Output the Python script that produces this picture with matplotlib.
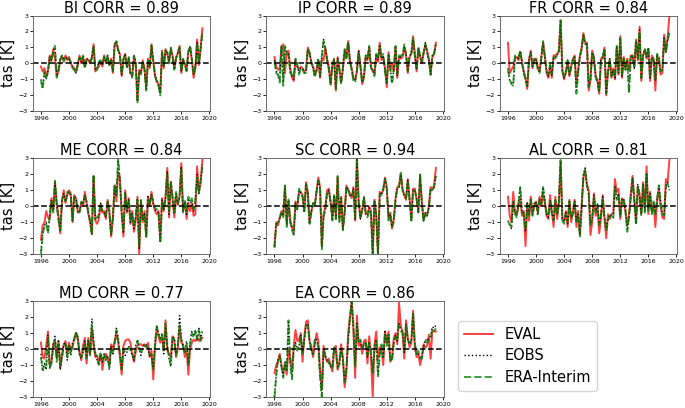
"""Seasonal tas anomalies per region: EVAL vs EOBS vs ERA-Interim."""

import matplotlib
matplotlib.use("Agg")
import matplotlib.pyplot as plt
import numpy as np

# quarterly time axis, 1996.0 .. 2019.0
START_YEAR = 1996
N_STEPS = 93

REGIONS = ["BI", "IP", "FR", "ME", "SC", "AL", "MD", "EA"]
CORRS = [0.89, 0.89, 0.84, 0.84, 0.94, 0.81, 0.77, 0.86]

BI_EVAL = [-0.2, -0.5, -0.3, -0.8, -0.4, 0.5, 0.2, 0.9, 0.3, -0.8, -0.5, 0.2,
           0.4, 0.2, 0.5, 0.2, 0.4, 0.0, -0.2, -0.3, -0.5, 0.0, 0.5, 0.0,
           0.4, -0.2, 0.3, 0.2, 0.0, 0.4, 1.2, -0.5, -0.3, -0.2, 0.1, -0.2,
           0.5, 0.0, 0.4, -0.1, 0.3, -0.6, 1.2, 1.3, 0.8, 0.6, -0.8, 0.2,
           0.6, -0.2, 0.3, -0.6, -0.8, 0.4, 0.0, -2.3, -0.4, -0.6, 0.2, -0.3,
           -1.6, 0.3, -0.3, 1.2, 0.2, -0.8, -1.1, -1.3, -1.8, 0.8, -0.3, 0.9,
           0.6, 0.1, 0.9, 0.5, -0.3, 0.4, 0.6, 1.1, -0.6, 0.2, 0.0, -0.4,
           0.8, 1.0, 0.2, -0.9, -0.3, 1.5, -0.1, 1.0, 2.2]
BI_EOBS = [-1.0, -1.5, -0.6, -1.0, -0.5, 0.4, 0.2, 0.8, 1.0, -0.8, -0.4, 0.3,
           0.5, 0.2, 0.4, 0.3, 0.3, 0.1, -0.2, -0.4, -0.6, -0.1, 0.4, 0.1,
           0.5, -0.2, 0.2, 0.3, 0.1, 0.3, 1.1, -0.4, -0.3, 0.1, 0.2, -0.1,
           0.4, 0.1, 0.5, -0.1, 0.2, -0.5, 1.2, 1.4, 0.9, 0.5, -0.7, 0.3,
           0.6, -0.3, 0.4, -0.7, -0.8, 0.5, 0.1, -2.4, -0.5, -0.6, 0.1, -0.4,
           -1.6, 0.2, -0.2, 1.1, 0.1, -0.7, -1.1, -1.4, -1.9, 0.7, -0.2, 0.8,
           0.7, 0.1, 1.0, 0.4, -0.4, 0.3, 0.7, 1.0, -0.5, 0.3, -0.1, -0.5,
           0.7, 1.1, 0.3, -0.7, -0.2, 1.3, 0.0, 0.9, 1.9]
BI_ERA = [-1.1, -1.6, -0.5, -0.9, -0.6, 0.4, 0.1, 0.8, 1.1, -0.9, -0.4, 0.3,
          0.5, 0.1, 0.4, 0.3, 0.3, 0.1, -0.3, -0.4, -0.6, -0.1, 0.4, 0.1,
          0.5, -0.3, 0.2, 0.3, 0.1, 0.3, 1.1, -0.4, -0.4, 0.1, 0.2, -0.1,
          0.4, 0.1, 0.5, -0.2, 0.2, -0.5, 1.1, 1.4, 0.9, 0.5, -0.7, 0.3,
          0.5, -0.3, 0.4, -0.7, -0.9, 0.5, 0.1, -2.5, -0.5, -0.7, 0.1, -0.4,
          -1.7, 0.2, -0.2, 1.1, 0.1, -0.7, -1.2, -1.4, -2.0, 0.7, -0.2, 0.8,
          0.7, 0.0, 1.0, 0.4, -0.4, 0.3, 0.7, 1.0, -0.5, 0.3, -0.1, -0.5,
          0.7, 1.1, 0.3, -0.7, -0.2, 1.3, 0.0, 0.9, 1.9]

IP_EVAL = [0.4, -0.2, -0.4, -0.3, 1.0, 1.2, -0.6, 0.7, 0.8, -0.3, -0.9, -1.1,
           0.2, -0.2, -0.4, -0.2, -0.3, -0.5, -0.4, 1.0, 0.6, 0.1, -0.2, -0.6,
           -0.5, 0.2, -0.9, 0.3, 0.2, 1.0, 0.3, -0.2, -1.3, 0.0, 0.2, -1.7,
           0.4, -0.3, -1.2, -0.4, 0.8, 0.4, 1.4, 0.2, -0.3, -0.9, -1.0, -0.5,
           0.8, -0.1, -1.3, -0.9, 0.4, 0.2, 1.0, -0.2, -0.5, -0.6, 0.5, 0.1,
           1.3, 0.2, 0.4, -0.3, -1.5, 0.7, -0.4, 0.0, -0.5, 1.0, -0.9, 0.4,
           0.3, 0.4, 1.0, 0.5, -0.6, 0.4, 0.6, 1.7, 0.6, -0.5, 0.9, 0.4,
           0.0, 0.6, 1.2, 0.8, 0.3, -0.7, 0.4, 0.6, 1.3]
IP_EOBS = [0.2, -0.5, -0.6, -1.1, 1.1, -1.2, 1.0, 0.7, 0.6, -0.5, -0.8, -1.0,
           0.3, -0.1, -0.6, -0.3, -0.3, -0.6, -0.5, 0.9, 0.7, 0.1, -0.3, -0.8,
           -0.4, 0.3, -0.8, 0.4, 1.5, 0.9, 0.2, -0.3, -1.3, -0.1, 0.3, -1.6,
           0.3, -0.4, -1.2, -0.3, 0.9, 0.3, 1.3, 0.1, -0.4, -1.0, -1.1, -0.4,
           0.8, -0.2, -1.2, -0.8, 0.5, 0.3, 1.0, -0.3, -0.4, -0.7, 0.6, 0.2,
           1.2, 0.3, 0.5, -0.4, -1.3, 0.6, -0.3, -1.2, -0.4, 1.1, -0.8, 0.5,
           0.4, 0.5, 1.1, 0.6, -0.5, 0.5, 0.6, 1.5, 0.5, -0.4, 1.0, 0.5,
           0.1, 0.7, 1.3, 0.7, 0.2, -0.7, 0.5, 0.6, 1.2]
IP_ERA = [0.1, -0.6, -0.7, -1.2, 1.1, -1.4, 1.1, 0.6, 0.5, -0.6, -0.7, -0.9,
          0.3, -0.1, -0.7, -0.3, -0.4, -0.6, -0.6, 0.9, 0.7, 0.0, -0.3, -0.9,
          -0.4, 0.3, -0.7, 0.5, 1.4, 0.9, 0.2, -0.4, -1.4, -0.2, 0.3, -1.6,
          0.2, -0.4, -1.3, -0.2, 0.9, 0.3, 1.4, 0.1, -0.4, -1.1, -1.2, -0.4,
          0.7, -0.2, -1.2, -0.8, 0.5, 0.3, 1.1, -0.3, -0.4, -0.8, 0.6, 0.3,
          1.1, 0.4, 0.6, -0.5, -1.2, 0.5, -0.3, -1.3, -0.3, 1.1, -0.7, 0.5,
          0.5, 0.5, 1.2, 0.6, -0.5, 0.5, 0.6, 1.6, 0.5, -0.4, 1.0, 0.5,
          0.1, 0.7, 1.2, 0.7, 0.2, -0.7, 0.5, 0.6, 1.2]

FR_EVAL = [1.3, -0.6, -0.4, -0.2, 0.3, 0.4, 0.2, 0.7, 0.1, -0.5, -0.9, -1.6,
           0.2, 0.8, -0.3, 0.2, 0.3, -0.2, -0.5, 0.4, 1.3, 0.5, -0.6, -0.9,
           -0.2, -0.9, 0.5, 0.5, 0.6, 0.8, 2.7, -0.4, -1.0, -0.5, 0.1, -0.8,
           -0.2, 0.3, 0.5, -1.2, -0.4, 0.5, 1.0, 1.9, 1.3, 1.3, -1.7, -1.0,
           0.8, 0.4, -0.8, -1.0, -1.9, 0.3, 0.3, 1.0, -2.0, -0.5, 0.2, -0.9,
           -0.3, -1.0, 1.0, -0.7, 1.7, -0.9, 0.4, -0.3, 0.3, -0.4, 0.5, 0.5,
           -0.2, 1.5, 0.2, 2.3, -1.1, 0.5, 0.8, 0.3, 0.9, -1.1, 0.5, 0.2,
           -1.7, 0.5, 0.2, -0.7, -0.6, 1.8, 0.8, 1.6, 3.0]
FR_EOBS = [-0.3, -1.1, -1.2, -1.3, 0.4, 0.3, 0.3, 0.8, 0.1, -0.6, -1.0, -1.5,
           0.3, 0.7, -0.2, 0.3, 0.2, -0.3, -0.6, 0.3, 1.3, 0.4, -0.5, -0.8,
           -0.1, -0.8, 0.4, 0.4, 0.5, 0.7, 2.6, -0.5, -0.9, -0.6, 0.2, -0.7,
           -0.2, 0.2, 0.4, -1.8, -0.5, 0.4, 0.9, 1.8, 1.2, 1.3, -1.5, -1.0,
           0.7, 0.3, -0.9, -1.1, -1.8, 0.2, 0.4, 0.9, -1.9, -0.6, 0.3, -0.8,
           -0.4, -0.9, 1.1, -0.6, 1.6, -0.8, 0.3, -0.4, 0.2, -1.8, 0.4, 0.5,
           -0.3, 1.4, 0.3, 2.1, -1.0, 0.6, 0.9, 0.4, 1.0, -0.9, 0.4, 0.3,
           -1.1, 0.6, 0.4, -0.5, -0.4, 1.6, 0.7, 1.5, 2.0]
FR_ERA = [-0.4, -1.0, -1.3, -1.4, 0.5, 0.3, 0.4, 0.8, 0.0, -0.6, -1.0, -1.4,
          0.3, 0.6, -0.2, 0.3, 0.2, -0.4, -0.6, 0.3, 1.4, 0.4, -0.4, -0.7,
          -0.1, -0.7, 0.4, 0.3, 0.5, 0.6, 2.7, -0.5, -0.9, -0.6, 0.2, -0.7,
          -0.3, 0.2, 0.4, -1.9, -0.6, 0.4, 0.9, 1.8, 1.2, 1.2, -1.5, -1.1,
          0.7, 0.3, -0.9, -1.2, -1.8, 0.2, 0.4, 0.9, -1.9, -0.6, 0.3, -0.8,
          -0.4, -0.9, 1.1, -0.6, 1.6, -0.8, 0.3, -0.4, 0.2, -1.9, 0.4, 0.5,
          -0.3, 1.4, 0.3, 2.0, -0.9, 0.6, 0.9, 0.4, 1.0, -0.9, 0.4, 0.3,
          -1.0, 0.6, 0.4, -0.5, -0.4, 1.5, 0.7, 1.4, 1.9]

ME_EVAL = [-2.1, -1.2, -1.0, -0.3, -0.7, -0.8, 0.5, -0.2, 1.5, 0.2, -0.6, -1.7,
           0.3, 1.0, 0.2, 0.7, 1.0, 0.8, -1.0, 0.7, 0.5, -0.4, -0.3, 0.2,
           0.0, 0.9, 0.2, -0.5, -1.0, -1.7, 1.9, -0.9, -1.1, -0.8, 0.1, -0.4,
           -0.3, -0.8, 0.4, -0.3, -1.9, -0.8, 1.3, 0.3, 2.1, 1.8, -0.5, -1.9,
           1.0, -0.4, 0.5, -1.1, -0.3, -1.6, -0.9, 0.6, -3.0, 0.3, -1.0, -0.3,
           -1.9, 0.6, 0.0, 0.9, 0.1, -0.3, -0.5, -0.3, -2.2, 0.5, -0.3, 0.6,
           2.4, -0.7, 1.5, 0.5, -0.7, 0.7, 0.1, 0.6, 2.7, -0.3, 0.3, -0.8,
           0.2, -0.3, 0.2, -0.6, -0.5, 2.5, 0.9, 1.5, 2.9]
ME_EOBS = [-2.8, -1.7, -1.2, -1.0, -1.6, -0.6, 0.4, -0.3, 1.5, 0.1, -0.8, -1.6,
           0.4, 0.8, 0.3, 0.8, 0.9, 0.7, -0.9, 0.6, 0.5, -0.3, -0.4, 0.3,
           0.1, 0.7, 0.3, -0.4, -0.9, -1.8, 1.9, -0.8, -0.8, -0.6, 0.2, -0.3,
           -0.4, -0.7, 0.3, -0.4, -1.8, -0.7, 1.3, 0.6, 2.9, 1.6, -0.4, -1.7,
           0.9, -0.3, 0.4, -1.0, -0.4, -1.4, -0.7, 0.5, -2.7, 0.4, -0.9, -0.4,
           -1.9, 0.6, 0.1, 0.8, 0.2, -0.2, -0.3, -0.4, -2.2, 0.4, -0.2, 0.5,
           2.2, -0.5, 1.5, 0.5, -0.5, 0.8, 0.1, 0.6, 2.5, -0.3, 0.3, -0.5,
           0.5, 0.2, 0.4, -0.3, 0.3, 2.0, 0.8, 1.5, 2.6]
ME_ERA = [-3.0, -1.8, -1.2, -1.1, -1.7, -0.6, 0.3, -0.4, 1.6, 0.0, -0.9, -1.5,
          0.4, 0.7, 0.3, 0.9, 0.9, 0.6, -0.9, 0.6, 0.4, -0.3, -0.4, 0.3,
          0.2, 0.6, 0.3, -0.3, -0.9, -1.8, 2.0, -0.8, -0.7, -0.5, 0.2, -0.3,
          -0.5, -0.6, 0.3, -0.4, -1.8, -0.6, 1.4, 0.7, 3.0, 1.5, -0.3, -1.6,
          0.8, -0.2, 0.4, -0.9, -0.5, -1.3, -0.6, 0.4, -2.5, 0.4, -0.8, -0.5,
          -1.9, 0.5, 0.2, 0.7, 0.3, -0.1, -0.2, -0.4, -2.3, 0.3, -0.2, 0.5,
          2.0, -0.4, 1.6, 0.6, -0.4, 0.9, 0.2, 0.7, 2.3, -0.4, 0.4, -0.3,
          0.6, 0.3, 0.5, -0.2, 0.4, 1.8, 0.8, 1.6, 2.5]

SC_EVAL = [-2.5, -1.0, -1.2, -0.7, -0.3, -0.6, 1.2, -1.1, 0.3, -0.9, -1.3, -1.6,
           0.3, -0.1, 0.9, 0.9, 0.7, -0.3, 1.5, 0.9, -1.0, -0.3, 0.1, 0.1,
           1.0, 1.8, 1.2, -2.5, -0.5, 0.0, 1.0, 1.1, 0.2, -0.8, 0.6, -0.7,
           1.8, -0.8, 0.6, -1.4, -0.3, 1.3, 1.0, 0.8, 0.5, 1.2, -0.9, 3.0,
           0.3, -0.7, -0.3, 0.5, -0.4, -0.5, 0.0, -0.3, -3.0, 0.4, -0.5, -3.0,
           0.9, 0.8, 1.0, 1.8, 1.2, -0.7, -0.4, -1.4, -0.8, 0.5, 1.2, 1.3,
           2.0, 1.0, 0.7, 0.4, 1.7, 0.5, -0.8, 1.1, 1.1, 0.4, -0.3, 1.9,
           0.3, -0.8, -0.5, -0.5, 0.0, 1.2, 1.1, 1.3, 2.4]
SC_EOBS = [-2.5, -1.1, -1.1, -0.8, -0.4, -0.6, 1.3, -1.2, 0.4, -1.0, -1.4, -1.7,
           0.2, -0.2, 1.0, 0.8, 0.6, -0.4, 1.4, 0.8, -1.1, -0.4, 0.2, 0.0,
           0.9, 1.6, 1.1, -2.6, -0.6, -0.2, 0.8, 1.0, 0.3, -0.9, 0.7, -0.8,
           1.8, -0.9, 0.5, -1.5, -0.4, 1.2, 1.1, 0.7, 0.6, 1.1, -0.8, 3.0,
           0.2, -0.8, -0.2, 0.6, -0.5, -0.6, -0.1, -0.4, -3.0, 0.3, -0.6, -3.0,
           0.8, 0.7, 1.1, 1.7, 1.1, -0.8, -0.5, -1.3, -0.9, 0.4, 1.1, 1.2,
           2.0, 1.1, 0.6, 0.5, 1.6, 0.4, -0.9, 1.0, 1.0, 0.5, -0.4, 2.0,
           0.2, -0.9, -0.4, -0.6, -0.1, 1.1, 1.0, 1.2, 2.0]
SC_ERA = [-2.6, -1.2, -1.0, -0.8, -0.4, -0.7, 1.3, -1.3, 0.5, -1.0, -1.5, -1.8,
          0.2, -0.2, 1.1, 0.8, 0.6, -0.4, 1.4, 0.8, -1.1, -0.4, 0.2, 0.0,
          0.9, 1.6, 1.1, -2.7, -0.6, -0.3, 0.8, 0.9, 0.3, -0.9, 0.7, -0.8,
          1.9, -1.0, 0.5, -1.5, -0.5, 1.2, 1.1, 0.6, 0.6, 1.0, -0.7, 3.0,
          0.2, -0.8, -0.2, 0.6, -0.5, -0.7, -0.2, -0.5, -3.0, 0.3, -0.7, -3.0,
          0.8, 0.7, 1.1, 1.7, 1.1, -0.9, -0.5, -1.3, -1.0, 0.4, 1.1, 1.2,
          2.1, 1.1, 0.6, 0.5, 1.6, 0.4, -1.0, 1.0, 1.0, 0.5, -0.4, 2.0,
          0.2, -1.0, -0.4, -0.6, -0.1, 1.1, 1.0, 1.2, 1.9]

AL_EVAL = [0.6, -0.6, -1.0, 0.9, -0.3, -0.5, 0.0, 0.5, -0.6, -0.3, -2.5, 0.2,
           -0.9, 0.6, -0.5, 0.0, 0.3, -0.4, 0.6, 0.0, 0.8, 0.2, -0.6, -0.8,
           0.7, -0.3, -1.3, 0.6, -0.8, 0.1, 2.8, -0.8, -0.9, -0.3, -1.3, 0.4,
           -1.0, -0.3, 0.4, -1.3, -0.3, -1.8, 0.1, 1.8, 2.2, 1.4, 1.0, -1.8,
           -1.0, 0.8, -0.6, 0.0, -1.7, -0.8, 0.7, -0.8, -2.0, -0.5, -0.8, -0.5,
           -0.4, 1.7, 0.9, 1.1, -0.8, 0.5, 0.3, -0.3, -1.2, -0.5, 0.8, 1.9,
           0.5, -1.0, 1.2, 0.8, -0.5, 1.5, -0.2, 2.5, -0.5, 0.9, -0.3, 0.1,
           -1.3, 0.3, 1.1, 0.0, -0.7, -0.8, 1.7, 1.5, 2.9]
AL_EOBS = [-0.9, -1.2, -1.4, 0.2, -0.4, -0.6, 0.3, 1.2, -0.4, -0.4, -1.6, 0.2,
           -0.5, 0.5, -0.5, 0.2, 0.3, -0.5, 0.4, 0.2, 1.2, 0.4, -0.5, -0.7,
           0.4, -0.4, -0.8, 0.3, -0.5, 0.4, 2.8, -0.8, -1.0, -0.4, -1.1, 0.3,
           -0.7, -0.4, 0.3, -0.9, -0.5, -1.8, 0.0, 2.0, 2.4, 1.2, 0.8, -1.1,
           -0.7, 0.7, -0.3, 0.2, -1.1, -0.5, 0.6, -0.6, -1.4, -0.8, -0.5, -0.6,
           -0.7, 1.3, 0.5, 0.8, -0.6, 0.5, 0.4, -0.3, -1.5, -0.6, 0.6, 1.8,
           0.4, -1.1, 1.4, 0.6, -0.5, 1.4, -0.3, 2.1, -0.2, 0.8, -0.4, 0.2,
           -0.4, 0.4, 1.3, 0.3, -0.4, -0.5, 1.3, 1.5, 1.0]
AL_ERA = [-1.0, -1.1, -1.3, 0.3, -0.5, -0.7, 0.2, 1.2, -0.4, -0.5, -1.5, 0.1,
          -0.6, 0.4, -0.6, 0.2, 0.2, -0.5, 0.5, 0.1, 1.2, 0.3, -0.4, -0.6,
          0.3, -0.5, -0.9, 0.4, -0.6, 0.3, 2.9, -0.9, -1.1, -0.5, -1.0, 0.3,
          -0.8, -0.5, 0.2, -1.0, -0.6, -1.9, -0.1, 1.9, 2.3, 1.3, 0.8, -1.2,
          -0.8, 0.6, -0.4, 0.1, -1.2, -0.6, 0.5, -0.7, -1.5, -0.9, -0.6, -0.7,
          -0.8, 1.2, 0.4, 0.7, -0.7, 0.4, 0.5, -0.4, -1.6, -0.7, 0.5, 1.7,
          0.3, -1.2, 1.3, 0.5, -0.6, 1.3, -0.4, 2.0, -0.3, 0.7, -0.5, 0.3,
          -0.5, 0.5, 1.3, 0.2, -0.5, -0.6, 1.2, 1.4, 1.1]

MD_EVAL = [0.4, -0.5, -0.6, 0.2, 1.1, -1.0, -0.8, 0.3, 0.5, -0.5, 0.5, -1.2,
           -0.3, 0.3, 0.5, -0.3, 0.4, 0.0, 0.1, 0.7, 1.0, 0.6, -0.2, -0.7,
           0.2, 0.7, -0.9, 0.7, -0.3, 1.3, 0.2, -0.5, -0.4, -0.8, -0.3, -1.3,
           -0.5, -0.3, -0.6, -1.0, 0.3, 0.0, 0.5, 1.0, 0.4, -0.5, -1.6, 0.2,
           0.5, 0.6, 0.6, 0.4, -0.3, -0.8, -0.2, 0.2, 0.3, 0.3, 0.2, 0.3,
           0.1, 0.4, -0.5, -0.1, -1.9, 0.1, 1.3, 0.8, 0.4, 0.7, 0.0, 1.8,
           -0.1, -0.3, -0.5, 0.8, 0.5, -0.5, 0.0, 1.4, 0.4, 0.3, -0.5, 0.0,
           -1.6, 0.0, 0.4, 0.6, 0.5, 0.7, 0.5, 0.7, 0.7]
MD_EOBS = [-0.3, -1.4, -0.9, -1.3, 0.9, -1.2, -0.8, 0.3, 0.8, -0.6, 0.6, -1.3,
           -0.5, 0.3, 0.4, -0.7, 0.2, -0.4, 0.4, 0.6, 1.0, 0.8, -0.4, -0.6,
           -0.2, 0.5, -0.5, 0.6, -0.3, 1.9, 0.5, -0.2, -0.7, -1.0, -0.3, -0.8,
           -0.3, -0.7, -0.4, -1.3, 0.2, -0.3, 0.4, 1.3, 0.7, -0.2, -1.2, 0.0,
           -0.4, -0.2, 0.2, -0.1, -0.4, -0.7, 0.2, 0.6, 0.0, -0.4, 0.1, 0.3,
           0.3, 0.0, -0.5, -0.4, -1.2, 0.4, 1.5, 1.0, 0.7, 1.0, -0.3, 1.4,
           0.3, -0.6, -1.1, 0.8, 0.7, -0.3, 0.2, 2.1, 0.7, 0.1, -0.2, 0.5,
           -0.9, 0.4, 1.1, 0.8, 1.2, 0.5, 1.3, 0.6, 1.2]
MD_ERA = [-0.5, -1.3, -1.0, -1.1, 0.8, -1.2, -0.9, 0.1, 0.6, -0.8, 0.4, -1.0,
          -0.6, 0.2, 0.3, -0.5, 0.3, -0.3, 0.2, 0.5, 1.1, 0.7, -0.3, -0.5,
          0.0, 0.4, -0.6, 0.5, -0.4, 1.5, 0.4, -0.3, -0.6, -1.0, -0.2, -0.7,
          -0.4, -0.6, -0.5, -1.2, 0.1, -0.2, 0.3, 1.2, 0.6, -0.3, -1.3, 0.0,
          -0.2, -0.1, 0.1, 0.0, -0.2, -0.6, 0.1, 0.5, 0.1, -0.2, 0.0, 0.2,
          0.2, 0.1, -0.4, -0.3, -1.3, 0.3, 1.4, 0.9, 0.6, 0.9, -0.2, 1.6,
          0.2, -0.5, -1.0, 0.7, 0.6, -0.4, 0.3, 1.5, 0.6, 0.2, -0.3, 0.4,
          -1.0, 0.3, 1.0, 0.7, 1.1, 0.6, 1.2, 0.5, 1.0]

EA_EVAL = [-1.5, -1.0, -0.8, -0.3, -1.0, -1.5, -1.0, -1.6, 0.0, -0.6, -1.2, 0.2,
           1.2, 0.5, 0.6, 1.0, -0.8, 0.8, 1.7, 1.8, 0.5, 0.2, -0.5, 0.3,
           1.0, 0.5, -1.3, -2.5, 0.2, -0.5, -0.8, -0.6, -1.0, -1.4, 0.0, 0.2,
           -1.3, -0.8, 0.3, -0.5, -2.4, -1.5, 1.0, 2.0, 3.0, 1.2, -1.8, 2.1,
           0.2, 0.4, -0.3, 0.5, 0.6, -0.9, 0.8, -0.5, -3.0, 0.3, 1.1, -0.6,
           0.1, 0.0, -1.0, 1.1, 0.5, 1.1, -0.8, -0.5, 0.7, 1.0, 0.3, 2.9,
           1.5, 1.0, -0.6, 1.8, 0.7, 0.1, 0.4, 2.4, 0.1, -0.5, -0.3, -1.0,
           -0.5, 0.3, 0.1, 0.2, 0.9, -0.6, 1.2, 1.1, 1.1]
EA_EOBS = [-3.0, -1.6, -0.6, -0.4, -1.2, -1.7, -0.8, -1.4, 1.7, -0.9, -1.8, 0.0,
           0.4, 0.0, 0.2, 0.9, -0.2, 0.6, 1.5, 1.6, 0.4, -0.1, -0.4, 0.5,
           0.6, 0.2, -1.6, -3.0, 0.0, -0.4, -0.7, -0.8, -1.1, -1.1, 0.1, -0.2,
           -1.1, -0.9, 0.1, -0.7, -2.0, -1.3, 0.6, 1.8, 3.0, 1.4, -1.0, 1.6,
           0.4, 0.5, 0.0, 0.3, 0.4, -0.5, 0.5, -0.2, -1.4, 0.1, 0.6, -1.6,
           -0.3, 0.2, -0.6, 1.1, 0.3, 0.9, -0.6, -0.7, 0.4, 0.9, 0.5, 1.6,
           1.2, 1.1, -0.2, 1.6, 0.6, 0.3, 0.5, 2.2, 0.3, -0.3, -0.2, -0.6,
           -0.5, 0.2, 0.6, 0.5, 0.7, 0.8, 1.4, 1.3, 1.5]
EA_ERA = [-3.0, -1.7, -0.7, -0.4, -1.1, -1.8, -0.8, -1.3, 1.8, -1.0, -1.9, 0.0,
          0.3, -0.1, 0.2, 0.8, -0.3, 0.5, 1.4, 1.5, 0.5, -0.1, -0.3, 0.6,
          0.5, 0.1, -1.8, -3.0, 0.0, -0.5, -0.6, -0.9, -1.0, -1.2, 0.1, -0.3,
          -1.2, -1.0, 0.0, -0.7, -2.1, -1.2, 0.5, 1.9, 3.0, 1.5, -1.1, 1.5,
          0.5, 0.6, 0.1, 0.3, 0.5, -0.4, 0.4, -0.1, -1.5, 0.0, 0.5, -1.7,
          -0.4, 0.3, -0.5, 1.0, 0.2, 0.9, -0.7, -0.8, 0.3, 0.8, 0.5, 1.5,
          1.1, 1.1, -0.1, 1.5, 0.6, 0.4, 0.5, 2.2, 0.4, -0.3, -0.1, -0.6,
          -0.6, 0.1, 0.5, 0.4, 0.6, 0.7, 1.2, 1.1, 1.3]

PANELS = [
    (BI_EVAL, BI_EOBS, BI_ERA),
    (IP_EVAL, IP_EOBS, IP_ERA),
    (FR_EVAL, FR_EOBS, FR_ERA),
    (ME_EVAL, ME_EOBS, ME_ERA),
    (SC_EVAL, SC_EOBS, SC_ERA),
    (AL_EVAL, AL_EOBS, AL_ERA),
    (MD_EVAL, MD_EOBS, MD_ERA),
    (EA_EVAL, EA_EOBS, EA_ERA),
]

years = START_YEAR + np.arange(N_STEPS) / 4.0

fig, axes = plt.subplots(3, 3, figsize=(6.85, 4.08), dpi=100)
fig.subplots_adjust(left=0.048, right=0.989, top=0.962, bottom=0.027,
                    wspace=0.315, hspace=0.49)
axes = axes.ravel()

for ax, region, corr, (ev, eo, er) in zip(axes, REGIONS, CORRS, PANELS):
    ax.plot(years, ev, color="red", lw=1.4, alpha=0.75, label="EVAL")
    ax.plot(years, eo, color="black", lw=1.0, ls=":", label="EOBS")
    ax.plot(years, er, color="green", lw=1.4, ls="--", alpha=0.75,
            label="ERA-Interim")
    ax.axhline(0, color="black", ls="--", lw=1.1)
    ax.set_ylim(-3, 3)
    ax.set_yticks(np.arange(-3, 4))
    ax.set_xticks(np.arange(1996, 2021, 4))
    ax.tick_params(labelsize=4.5, length=2, width=0.6, pad=1.5)
    ax.set_title(f"{region} CORR = {corr:.2f}", fontsize=10.5, pad=2)
    ax.set_ylabel("tas [K]", fontsize=10.5, labelpad=2)
    for sp in ax.spines.values():
        sp.set_linewidth(0.6)
        sp.set_color("#555555")

axes[-1].axis("off")
handles, labels = axes[0].get_legend_handles_labels()
fig.legend(handles, labels, loc="upper left", borderaxespad=0,
           bbox_to_anchor=(458 / 685, 1 - 321 / 408), fontsize=10.5,
           labelspacing=0.45, framealpha=0.8, edgecolor="#cccccc")

fig.savefig("out.png", dpi=100)
